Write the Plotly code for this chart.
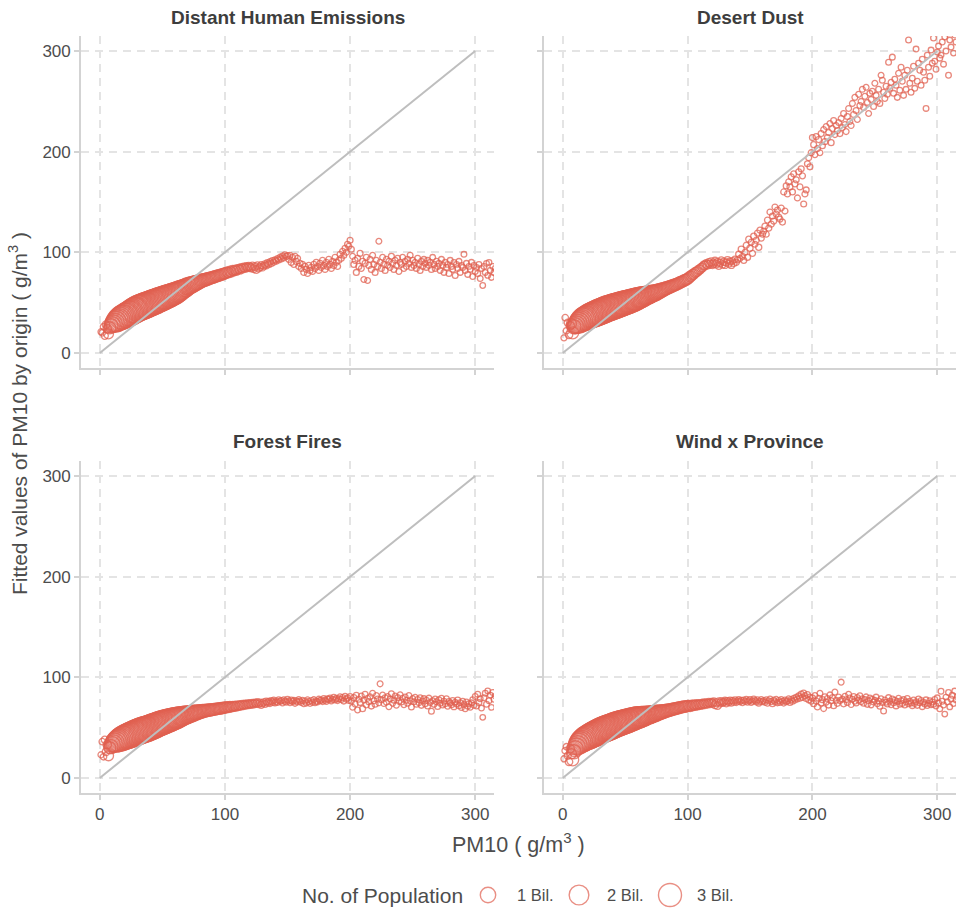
import numpy as np
import plotly.graph_objects as go

PANELS = ["Distant Human Emissions", "Desert Dust", "Forest Fires", "Wind x Province"]

pm10 = [
    1, 2, 3, 4, 5, 6, 7, 8, 9, 10, 11, 12, 13, 14, 15, 16, 17, 18, 19, 20,
    21, 22, 23, 24, 25, 26, 27, 28, 29, 30, 31, 32, 33, 34, 35, 36, 37, 38, 39, 40,
    41, 42, 43, 44, 45, 46, 47, 48, 49, 50, 51, 52, 53, 54, 55, 56, 57, 58, 59, 60,
    61, 62, 63, 64, 65, 66, 67, 68, 69, 70, 71, 72, 73, 74, 75, 76, 77, 78, 79, 80,
    81, 82, 83, 84, 85, 86, 87, 88, 89, 90, 91, 92, 93, 94, 95, 96, 97, 98, 99, 100,
    101, 102, 103, 104, 105, 106, 107, 108, 109, 110, 111, 112, 113, 114, 115, 116, 117, 118, 119, 120,
    121, 122, 123, 124, 125, 126, 127, 128, 129, 130, 131, 132, 133, 134, 135, 136, 137, 138, 139, 140,
    141, 142, 143, 144, 145, 146, 147, 148, 149, 150, 151, 152, 153, 154, 155, 156, 157, 158, 159, 160,
    161, 162, 163, 164, 165, 166, 167, 168, 169, 170, 171, 172, 173, 174, 175, 176, 177, 178, 179, 180,
    181, 182, 183, 184, 185, 186, 187, 188, 189, 190, 191, 192, 193, 194, 195, 196, 197, 198, 199, 200,
    201, 202, 203, 204, 205, 206, 207, 208, 209, 210, 211, 212, 213, 214, 215, 216, 217, 218, 219, 220,
    221, 222, 223, 224, 225, 226, 227, 228, 229, 230, 231, 232, 233, 234, 235, 236, 237, 238, 239, 240,
    241, 242, 243, 244, 245, 246, 247, 248, 249, 250, 251, 252, 253, 254, 255, 256, 257, 258, 259, 260,
    261, 262, 263, 264, 265, 266, 267, 268, 269, 270, 271, 272, 273, 274, 275, 276, 277, 278, 279, 280,
    281, 282, 283, 284, 285, 286, 287, 288, 289, 290, 291, 292, 293, 294, 295, 296, 297, 298, 299, 300,
    301, 302, 303, 304, 305, 306, 307, 308, 309, 310, 311, 312, 313, 314, 315, 316,
]

population_bil = [
    0.01, 0.02, 0.02, 0.04, 0.06, 0.11, 0.23, 0.45, 0.75, 1.12,
    1.44, 1.81, 2.22, 2.52, 2.77, 3.0, 3.16, 3.34, 3.44, 3.55,
    3.62, 3.68, 3.74, 3.8, 3.86, 3.92, 3.97, 4.0, 4.03, 4.05,
    4.06, 4.06, 4.05, 4.04, 4.02, 4.0, 3.97, 3.94, 3.91, 3.88,
    3.84, 3.8, 3.76, 3.72, 3.68, 3.63, 3.58, 3.53, 3.47, 3.41,
    3.35, 3.28, 3.21, 3.14, 3.06, 2.98, 2.9, 2.82, 2.74, 2.66,
    2.5, 2.38, 2.26, 2.14, 2.02, 1.91, 1.8, 1.7, 1.6, 1.51,
    1.42, 1.34, 1.26, 1.18, 1.1, 1.02, 0.94, 0.87, 0.8, 0.74,
    0.69, 0.65, 0.61, 0.58, 0.55, 0.53, 0.51, 0.49, 0.47, 0.45,
    0.44, 0.43, 0.42, 0.41, 0.4, 0.39, 0.38, 0.37, 0.36, 0.35,
    0.33, 0.31, 0.29, 0.27, 0.25, 0.23, 0.21, 0.2, 0.18, 0.17,
    0.16, 0.15, 0.14, 0.13, 0.12, 0.11, 0.1, 0.095, 0.09, 0.085,
    0.08, 0.075, 0.07, 0.065, 0.06, 0.055, 0.05, 0.045, 0.04, 0.036,
    0.033, 0.03, 0.027, 0.024, 0.022, 0.02, 0.018, 0.016, 0.014, 0.012,
    0.011, 0.01, 0.012, 0.009, 0.011, 0.01, 0.009, 0.012, 0.01, 0.011,
    0.009, 0.01, 0.011, 0.008, 0.01, 0.009, 0.011, 0.01, 0.008, 0.01,
    0.009, 0.01, 0.008, 0.009, 0.01, 0.008, 0.009, 0.007, 0.009, 0.008,
    0.008, 0.009, 0.007, 0.008, 0.009, 0.007, 0.008, 0.008, 0.007, 0.009,
    0.008, 0.007, 0.008, 0.007, 0.008, 0.009, 0.007, 0.008, 0.007, 0.008,
    0.007, 0.008, 0.007, 0.008, 0.007, 0.007, 0.008, 0.007, 0.008, 0.007,
    0.007, 0.006, 0.007, 0.008, 0.007, 0.006, 0.007, 0.007, 0.006, 0.007,
    0.006, 0.007, 0.007, 0.006, 0.007, 0.006, 0.007, 0.006, 0.006, 0.007,
    0.006, 0.007, 0.006, 0.006, 0.007, 0.006, 0.006, 0.007, 0.006, 0.006,
    0.006, 0.006, 0.007, 0.006, 0.005, 0.006, 0.006, 0.005, 0.006, 0.006,
    0.005, 0.006, 0.006, 0.005, 0.006, 0.005, 0.006, 0.005, 0.005, 0.006,
    0.005, 0.006, 0.005, 0.005, 0.006, 0.005, 0.005, 0.006, 0.005, 0.005,
    0.005, 0.005, 0.006, 0.005, 0.005, 0.004, 0.005, 0.005, 0.006, 0.005,
    0.005, 0.004, 0.005, 0.005, 0.004, 0.005, 0.005, 0.004, 0.005, 0.004,
    0.005, 0.004, 0.004, 0.005, 0.004, 0.004, 0.005, 0.004, 0.004, 0.005,
    0.004, 0.004, 0.005, 0.004, 0.004, 0.004, 0.005, 0.004, 0.004, 0.004,
    0.004, 0.005, 0.004, 0.004, 0.004, 0.003, 0.004, 0.004, 0.004, 0.003,
    0.004, 0.004, 0.003, 0.004, 0.004, 0.003,
]

fitted_distant_human = [
    21, 20, 26, 17, 28, 24, 19, 25, 27, 28,
    29, 30, 31, 32, 33, 34, 35, 35.5, 36, 37,
    37.5, 38, 39, 39.5, 40, 41, 42, 42.5, 43, 44,
    44.5, 45, 45.5, 46, 46.5, 47, 47.5, 48, 48.5, 49,
    49.5, 50, 50.5, 51, 51.5, 52, 52.5, 53, 53.5, 54,
    54.5, 55, 55.5, 56, 56.5, 57, 57.5, 58, 58.5, 59,
    59.7, 60.4, 61, 61.7, 62.4, 63, 63.7, 64.4, 65, 66,
    66.5, 67, 67.5, 68, 68.5, 69, 69.5, 70, 70.5, 71,
    71.4, 71.8, 72.2, 72.6, 73, 73.4, 73.8, 74.2, 74.6, 75,
    75.4, 75.8, 76.2, 76.6, 77, 77.4, 77.8, 78.2, 78.6, 79,
    79.5, 80.2, 79.8, 81, 80.5, 82, 81.4, 82.5, 81.8, 83,
    83.5, 82.8, 84.2, 83.6, 85, 84.2, 85.5, 84.8, 86, 85.2,
    84.5, 86.3, 83.8, 85.6, 82.9, 86.8, 84.1, 85.4, 87.2, 85,
    86.4, 88.1, 87, 89.3, 88.2, 90.4, 89, 91.5, 90.2, 92.3,
    91.4, 93.7, 92.5, 95.1, 93.6, 96.2, 94.5, 97.3, 95.8, 96.5,
    93, 97, 90, 95, 88, 96, 91, 94, 86, 89,
    84, 88, 80, 86, 83, 79, 87, 82, 85, 81,
    88, 84, 90, 86, 82, 89, 85, 92, 87, 83,
    90, 86, 93, 88, 84, 91, 87, 95, 90, 86,
    92, 98, 94, 101, 97, 104, 100, 108, 106, 112,
    103, 96, 88, 92, 80, 94, 86, 99, 84, 91,
    73, 89, 95, 72, 87, 93, 83, 97, 88, 80,
    92, 86, 111, 90, 84, 95, 88, 82, 93, 87,
    91, 85, 96, 89, 83, 92, 87, 94, 81, 90,
    88, 95, 84, 91, 86, 93, 89, 97, 85, 92,
    87, 90, 84, 94, 88, 82, 91, 86, 93, 89,
    85, 92, 87, 90, 83, 95, 88, 84, 91, 86,
    89, 82, 93, 87, 80, 90, 85, 88, 79, 92,
    86, 83, 90, 77, 88, 84, 91, 80, 87, 85,
    98, 82, 89, 78, 86, 83, 90, 76, 87, 81,
    85, 79, 88, 74, 84, 67, 86, 80, 89, 77,
    90, 82, 75, 86, 80, 84,
]

fitted_desert_dust = [
    15, 35, 22, 30, 18, 27, 29, 20, 26, 27,
    28, 29, 30, 31, 32, 33, 33.7, 34.4, 35, 35.7,
    36.3, 37, 37.5, 38, 38.5, 39, 39.5, 40, 40.5, 41,
    41.5, 42, 42.6, 43.1, 43.7, 44.1, 44.5, 45, 45.4, 45.8,
    46.2, 46.6, 47, 47.4, 47.8, 48.2, 48.6, 49, 49.4, 49.8,
    50.2, 50.6, 51, 51.4, 51.8, 52.2, 52.6, 53, 53.5, 54,
    54.5, 55, 55.4, 55.8, 56.2, 56.6, 57, 57.4, 57.8, 58.2,
    58.6, 59, 59.4, 59.8, 60.2, 60.7, 61.2, 61.7, 62.2, 62.7,
    63.2, 63.7, 64.2, 64.7, 65.2, 65.7, 66.2, 66.7, 67.2, 67.7,
    68.2, 68.8, 69.4, 70, 70.6, 71.2, 71.8, 72.4, 73, 73.6,
    74.5, 75.8, 76.6, 77.9, 78.4, 79.8, 80.5, 81.2, 82.6, 83.1,
    84.5, 85.2, 86.7, 87.1, 88.3, 87.5, 89.6, 88.2, 90.5, 87.9,
    89.1, 91.2, 88.4, 90.1, 86.8, 89.5, 91.8, 88, 90.6, 87.4,
    89.9, 92.3, 88.7, 90.8, 87.2, 91.4, 89.2, 93, 90.1, 92.5,
    98, 94, 103, 96, 92, 100, 107, 95, 113, 104,
    110, 99, 116, 108, 112, 119, 105, 122, 114, 118,
    121, 126, 118, 132, 124, 140, 128, 136, 131, 145,
    138, 142, 135, 133, 144, 130, 160, 141, 166, 158,
    170, 165, 175, 160, 178, 168, 172, 154, 180, 165,
    183, 176, 148, 158, 162, 188, 194, 185, 199, 214,
    207, 197, 215, 203, 212, 199, 218, 206, 222, 210,
    225, 214, 219, 228, 209, 223, 231, 217, 226, 221,
    229, 218, 233, 224, 238, 227, 220, 235, 243, 230,
    226, 248, 237, 254, 241, 232, 257, 246, 250, 262,
    244, 255, 264, 249, 238, 258, 252, 260, 245, 268,
    256, 250, 262, 248, 276, 271, 259, 253, 265, 257,
    289, 263, 269, 294, 258, 272, 266, 254, 278, 261,
    284, 270, 256, 276, 262, 281, 311, 268, 259, 273,
    285, 263, 302, 270, 288, 281, 266, 292, 279, 271,
    243, 296, 284, 275, 301, 288, 313, 290, 282, 299,
    305, 293, 296, 309, 287, 314, 300, 318, 276, 311,
    304, 320, 298, 316, 309, 322,
]

fitted_forest_fires = [
    23, 36, 21, 38, 26, 33, 22, 30, 31, 33,
    34, 35, 35.8, 36.5, 37.2, 37.9, 38.6, 39.2, 39.8, 40.4,
    41, 41.5, 42, 42.5, 43, 43.5, 44, 44.5, 45, 45.5,
    46, 46.5, 47, 47.4, 47.8, 48.2, 48.6, 49, 49.5, 50,
    50.5, 51, 51.5, 52, 52.5, 53, 53.5, 54, 54.5, 55,
    55.4, 55.8, 56.2, 56.6, 57, 57.4, 57.8, 58.2, 58.6, 59,
    59.4, 59.8, 60.2, 60.6, 61, 61.4, 61.8, 62.2, 62.5, 62.8,
    63.1, 63.4, 63.7, 64, 64.3, 64.6, 64.9, 65.2, 65.5, 65.8,
    66.1, 66.3, 66.5, 66.7, 66.9, 67.1, 67.3, 67.5, 67.7, 67.9,
    68.1, 68.3, 68.5, 68.7, 68.9, 69.1, 69.3, 69.5, 69.7, 69.9,
    70.1, 70.4, 70.2, 70.8, 70.5, 71.2, 70.9, 71.5, 71.1, 72,
    71.6, 72.3, 71.9, 72.8, 72.2, 73.1, 72.6, 73.5, 72.9, 73.8,
    73.1, 74.2, 73.4, 74.6, 73.8, 75, 73.5, 74.8, 72.6, 74.1,
    75.2, 73.4, 76, 74.6, 75.8, 74.1, 76.5, 75.3, 77.1, 74.8,
    76.2, 75, 77.4, 75.9, 76.8, 74.6, 77.6, 76.1, 75.3, 77.9,
    76.4, 74.9, 77.2, 75.8, 76.9, 74.2, 76.6, 75.5, 77.8, 76.3,
    75, 77.1, 73.8, 76.4, 74.5, 77.5, 75.8, 74.1, 76.9, 75.2,
    77.7, 74.8, 76.3, 75.6, 78.2, 76.8, 77.4, 75.9, 78.8, 77.2,
    76.1, 78.5, 77.8, 79.4, 76.6, 78.1, 80.2, 77.5, 79, 76.9,
    78.6, 80.5, 77.9, 79.8, 76.4, 81.2, 78.3, 79.5, 77, 80.8,
    76.5, 70.2, 79.8, 73.4, 82.1, 67.5, 78.2, 74.9, 81.3, 68.8,
    77.4, 83, 72.6, 79.1, 75.8, 80.6, 71.4, 84.2, 76.7, 73.3,
    81.9, 78.4, 74.6, 93.5, 77.8, 82.4, 73.9, 79.6, 75.2, 80.9,
    70.8, 78.5, 83.6, 74.1, 77.3, 81.4, 72.2, 79.8, 76.1, 82.6,
    75.4, 79.2, 72.8, 80.5, 77.1, 74.3, 81.8, 76.6, 70.4, 78.9,
    75.7, 80.1, 73.2, 77.9, 74.8, 79.6, 72.1, 76.4, 78.8, 73.6,
    77.2, 71.5, 79.3, 74.9, 66.3, 76.8, 73.1, 78.4, 75.6, 70.9,
    77.7, 74.2, 79.1, 72.5, 76.3, 73.8, 78.6, 71.2, 75.9, 74.4,
    72.7, 76.9, 70.6, 75.1, 73.4, 77.5, 71.8, 74.7, 69.9, 76.2,
    72.9, 68.7, 75.4, 71.3, 73.8, 70.2, 74.6, 77.8, 72.1, 80.9,
    71.5, 83.2, 74.9, 78.6, 69.4, 60.2, 79.7, 84.1, 73.2, 86.5,
    76.8, 82.3, 70.1, 85, 78.2, 81.4,
]

fitted_wind_province = [
    19, 27, 31, 22, 16, 29, 24, 18, 26, 29,
    31, 32.5, 34, 35.2, 36.3, 37.3, 38.2, 39, 39.7, 40.4,
    41, 41.7, 42.4, 43, 43.6, 44.2, 44.8, 45.4, 46, 46.6,
    47.2, 47.7, 48.2, 48.7, 49.2, 49.7, 50.2, 50.7, 51.2, 51.7,
    52.2, 52.7, 53.2, 53.6, 54, 54.4, 54.8, 55.2, 55.6, 56,
    56.4, 56.8, 57.2, 57.6, 58, 58.4, 58.8, 59.2, 59.5, 59.8,
    60.1, 60.4, 60.7, 61, 61.3, 61.6, 61.9, 62.2, 62.5, 62.8,
    63.1, 63.4, 63.7, 64, 64.3, 64.6, 64.9, 65.2, 65.5, 65.8,
    66.1, 66.4, 66.7, 67, 67.3, 67.6, 67.9, 68.2, 68.5, 68.8,
    69.1, 69.4, 69.7, 70, 70.3, 70.6, 70.8, 71, 71.2, 71.4,
    71.7, 71.3, 72.1, 71.8, 72.5, 72, 72.9, 72.4, 73.2, 72.7,
    73.6, 73, 74, 73.3, 74.3, 73.6, 74.8, 73.9, 75.1, 74.2,
    75.5, 72.8, 74.7, 71.9, 75.9, 74.4, 76.2, 74.8, 75.4, 76.7,
    74.1, 76.5, 75.2, 77, 74.6, 76.8, 75.5, 77.4, 75, 76.3,
    77.8, 75.7, 76.9, 74.9, 77.3, 76, 78.1, 75.4, 76.6, 77.7,
    75.1, 76.4, 78.3, 76.8, 75.6, 77.5, 74.5, 76.1, 77.9, 75.8,
    76.9, 75.2, 77.6, 74.3, 76.5, 78.4, 75.9, 73.8, 77.2, 75.6,
    78, 74.7, 76.8, 75.1, 77.9, 76.2, 74.4, 77.3, 75.7, 76.6,
    78.5, 75, 77.8, 76.3, 79.1, 77.4, 80.2, 78.6, 81.5, 79.3,
    83.2, 80.1, 84.4, 81.7, 78.9, 82.8, 77.6, 80.4, 76.2, 79.5,
    73.8, 81.9, 76.4, 70.6, 79.2, 84.1, 74.5, 77.8, 68.9, 80.7,
    75.3, 78.9, 72.4, 82.5, 76.6, 79.8, 71.7, 85.3, 77.2, 74.1,
    80.4, 76.9, 95.2, 78.3, 73.6, 81.2, 77.7, 75, 83.1, 79.4,
    72.9, 78.1, 80.8, 76.2, 74.5, 79.9, 77.3, 81.6, 75.8, 78.7,
    74.2, 77.9, 80.5, 73.1, 76.8, 79.4, 72.6, 78.2, 75.5, 77.1,
    80.3, 73.8, 76.4, 71.2, 78.6, 74.9, 66.5, 77.5, 75.2, 73.4,
    79.8, 76.1, 72.8, 78.4, 74.7, 77.2, 71.6, 75.9, 79.1, 73.3,
    76.7, 74, 77.8, 72.4, 75.6, 78.9, 73.7, 76.3, 74.5, 71.8,
    77.4, 73.9, 75.8, 72.1, 78.5, 74.6, 76.9, 70.8, 75.1, 73.5,
    77.6, 71.9, 74.3, 76.7, 72.8, 75.5, 73.2, 77.9, 71.4, 79.6,
    74.4, 68.7, 86.1, 76.2, 72.5, 63.4, 80.3, 75.7, 84.9, 70.6,
    78.4, 82.2, 73.9, 86.3, 77.5, 80.7,
]

LEGEND_BREAKS = [1, 2, 3]
LEGEND_LABELS = ["1 Bil.", "2 Bil.", "3 Bil."]
IDENTITY = [0, 300]
TICKS = [0, 100, 200, 300]

series = [fitted_distant_human, fitted_desert_dust, fitted_forest_fires, fitted_wind_province]
for s in series + [population_bil]:
    assert len(s) == len(pm10), (len(s), len(pm10))

FONT = "Liberation Sans, Arial, Helvetica, sans-serif"
POINT = "rgb(224,96,80)"
TEXT = "#4d4d4d"
W, H = 956, 909


def size_px(p):
    # ggplot-like area scale: diameter grows with sqrt(population)
    return 5 + 10.4 * np.sqrt(np.asarray(p, dtype=float))


fig = go.Figure()
axis_pairs = [("x", "y"), ("x2", "y2"), ("x3", "y3"), ("x4", "y4")]
for s, (xa, ya) in zip(series, axis_pairs):
    fig.add_trace(go.Scatter(
        x=pm10, y=s, mode="markers", xaxis=xa, yaxis=ya,
        marker=dict(symbol="circle-open", size=size_px(population_bil), color=POINT,
                    opacity=0.75, line=dict(width=1.3)),
        showlegend=False, hoverinfo="skip"))
    fig.add_trace(go.Scatter(
        x=IDENTITY, y=IDENTITY, mode="lines", xaxis=xa, yaxis=ya,
        line=dict(color="#bebebe", width=2), showlegend=False, hoverinfo="skip"))

X_LEFT = [81 / W, 494 / W]
X_RIGHT = [544 / W, 1.0]
Y_TOP = [1 - 368 / H, 1 - 36 / H]
Y_BOT = [1 - 793 / H, 1 - 461 / H]


def axis(domain, anchor, labels):
    return dict(domain=domain, anchor=anchor, range=[-15, 315], tickvals=TICKS,
                showticklabels=labels, showline=True, linecolor="#d3d3d3", linewidth=1.7,
                ticks="outside", ticklen=5, tickwidth=1.5, tickcolor="#d3d3d3",
                showgrid=True, gridcolor="#e4e4e4", griddash="8px,6px", gridwidth=1.5,
                zeroline=False, tickfont=dict(family=FONT, size=17, color=TEXT))


fig.update_layout(
    width=W, height=H, margin=dict(l=0, r=0, t=0, b=0),
    paper_bgcolor="white", plot_bgcolor="white", showlegend=False,
    xaxis=axis(X_LEFT, "y", False), yaxis=axis(Y_TOP, "x", True),
    xaxis2=axis(X_RIGHT, "y2", False), yaxis2=axis(Y_TOP, "x2", False),
    xaxis3=axis(X_LEFT, "y3", True), yaxis3=axis(Y_BOT, "x3", True),
    xaxis4=axis(X_RIGHT, "y4", True), yaxis4=axis(Y_BOT, "x4", False),
)

annotations = []
centers = [(sum(X_LEFT) / 2, 1 - 17 / H), (sum(X_RIGHT) / 2, 1 - 17 / H),
           (sum(X_LEFT) / 2, 1 - 441 / H), (sum(X_RIGHT) / 2, 1 - 441 / H)]
for name, (cx, cy) in zip(PANELS, centers):
    annotations.append(dict(text=f"<b>{name}</b>", x=cx, y=cy, xref="paper", yref="paper",
                            xanchor="center", yanchor="middle", showarrow=False,
                            font=dict(family=FONT, size=19, color="#3d3d3d")))

annotations.append(dict(text="Fitted values of PM10 by origin ( g/m<sup>3</sup> )",
                        x=18 / W, y=1 - 414 / H, xref="paper", yref="paper", textangle=-90,
                        xanchor="center", yanchor="middle", showarrow=False,
                        font=dict(family=FONT, size=21, color=TEXT)))
annotations.append(dict(text="PM10 ( g/m<sup>3</sup> )", x=518 / W, y=1 - 843 / H,
                        xref="paper", yref="paper", xanchor="center", yanchor="middle",
                        showarrow=False, font=dict(family=FONT, size=21.5, color=TEXT)))
annotations.append(dict(text="No. of Population", x=382 / W, y=1 - 895 / H,
                        xref="paper", yref="paper", xanchor="center", yanchor="middle",
                        showarrow=False, font=dict(family=FONT, size=21, color=TEXT)))

shapes = []
key_x = [488, 579, 670]
label_x = [515, 605, 695]
for b, lab, kx, lx in zip(LEGEND_BREAKS, LEGEND_LABELS, key_x, label_x):
    r = float(size_px(b)) / 2
    shapes.append(dict(type="circle", xref="paper", yref="paper",
                       xsizemode="pixel", ysizemode="pixel",
                       xanchor=kx / W, yanchor=1 - 895 / H,
                       x0=-r, x1=r, y0=-r, y1=r,
                       line=dict(color="rgba(224,96,80,0.7)", width=1.4)))
    annotations.append(dict(text=lab, x=lx / W, y=1 - 895 / H, xref="paper", yref="paper",
                            xanchor="left", yanchor="middle", showarrow=False,
                            font=dict(family=FONT, size=16.5, color=TEXT)))

fig.update_layout(annotations=annotations, shapes=shapes)
fig.write_html("out.html", include_plotlyjs=True, config={"displayModeBar": False})
